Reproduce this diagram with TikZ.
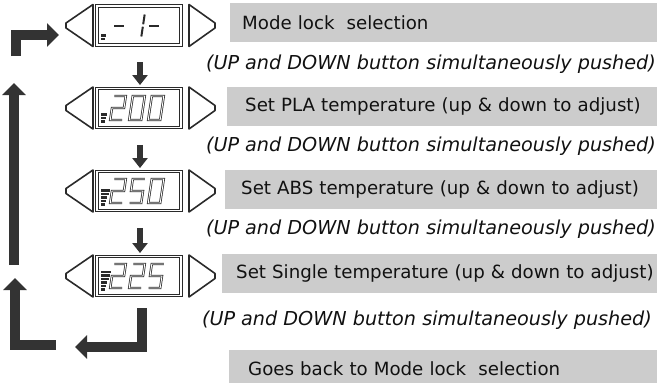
\documentclass[tikz,border=0pt]{standalone}
\usepackage{fontspec}
\setmainfont{DejaVu Sans}
\usetikzlibrary{arrows.meta,calc}
\definecolor{arrowgray}{HTML}{333333}
\definecolor{boxgray}{HTML}{CCCCCC}
\definecolor{lcdgray}{HTML}{2A2A2A}
\definecolor{textdark}{HTML}{111111}
% digit glyph paths in a local 12 x 24 cell (y down)
\newcommand\lcdtwo{(0.5,-12) -- (12,-12) -- (12,0) -- (0,0) -- (0,12) -- (12,12)}
\newcommand\lcdzero{(0,-12) rectangle (12,12)}
\newcommand\lcdfive{(12,-12) -- (0,-12) -- (0,0) -- (12,0) -- (12,12) -- (0.5,12)}
\newcommand\lcdone{(12,-11) -- (12,-1.2) (12,1.2) -- (12,11)}
\newcommand\lcddash{(1,0) -- (11,0)}
% x, c, glyph, style
\newcommand\lcddigit[4]{%
 \begin{scope}[shift={(#1,#2)}, xslant=0.15]
  \draw[#4] #3;
 \end{scope}}
% row: name, center y, number of bars
\newcommand\lcdrow[3]{%
 \node[lcdbox] (#1) at (139,#2) {};
 \draw[btn] (93,#2-21) -- (66,#2-2.5) -- (66,#2+2.5) -- (93,#2+21) -- cycle;
 \draw[btn] (189,#2-21) -- (215,#2-2.5) -- (215,#2+2.5) -- (189,#2+21) -- cycle;
 \foreach \k in {1,...,#3}{\fill[lcdgray] (101,#2+15.5-3.5*\k) rectangle (103.5+1.3*\k,#2+18-3.5*\k);}
}
\begin{document}
\begin{tikzpicture}[x=1pt,y=-1pt,
  lcdbox/.style={draw=lcdgray, double=white, double distance=1.3pt, line width=0.9pt, minimum width=84pt, minimum height=39pt, inner sep=0pt},
  btn/.style={draw=lcdgray, line width=1.6pt, line join=round},
  seg/.style={draw=lcdgray, double=white, double distance=0.9pt, line width=0.75pt, line join=miter},
  solidseg/.style={draw=lcdgray, line width=2pt},
  graybox/.style={fill=boxgray, draw=none, anchor=west, minimum height=39pt, inner ysep=0pt, text=textdark, align=left, font=\fontsize{18.2}{20}\selectfont},
  note/.style={anchor=east, inner sep=0pt, text=textdark, font=\fontsize{19.2}{21}\selectfont\itshape},
  bigarrow/.style={draw=arrowgray, line width=10pt, line join=miter, -{Triangle[width=23pt,length=12pt]}},
  downarrow/.style={draw=arrowgray, line width=6pt, -{Triangle[width=15pt,length=10pt]}}]
\useasboundingbox (0,0) rectangle (659,383);
% displays
\lcdrow{d1}{25.5}{2}
\lcdrow{d2}{108}{3}
\lcdrow{d3}{191}{5}
\lcdrow{d4}{276}{6}
% row 1: - 1 -
\lcddigit{113}{25.5}{\lcddash}{solidseg}
\lcddigit{131}{25.5}{\lcdone}{solidseg}
\lcddigit{148}{25.5}{\lcddash}{solidseg}
% row 2: 200
\lcddigit{112}{108}{\lcdtwo}{seg}
\lcddigit{131}{108}{\lcdzero}{seg}
\lcddigit{150}{108}{\lcdzero}{seg}
% row 3: 250
\lcddigit{112}{191}{\lcdtwo}{seg}
\lcddigit{131}{191}{\lcdfive}{seg}
\lcddigit{150}{191}{\lcdzero}{seg}
% row 4: 225
\lcddigit{112}{276}{\lcdtwo}{seg}
\lcddigit{131}{276}{\lcdtwo}{seg}
\lcddigit{150}{276}{\lcdfive}{seg}
% gray label boxes
\node[graybox, inner xsep=12pt, text width=403pt] (t1) at (230,22.5) {\mbox{Mode lock\ \ selection}};
\node[graybox, inner xsep=18pt, text width=394pt] (t2) at (227,106) {\mbox{Set PLA temperature (up \& down to adjust)}};
\node[graybox, inner xsep=16pt, text width=400pt] (t3) at (225,189) {\mbox{Set ABS temperature (up \& down to adjust)}};
\node[graybox, inner xsep=14pt, text width=407pt] (t4) at (222,273) {\mbox{Set Single temperature (up \& down to adjust)}};
\node[graybox, inner xsep=19pt, text width=390pt] (t5) at (229,369) {\mbox{Goes back to Mode lock\ \ selection}};
% notes
\node[note] (n1) at (656,64) {(UP and DOWN button simultaneously pushed)};
\node[note] (n2) at (656,146) {(UP and DOWN button simultaneously pushed)};
\node[note] (n3) at (656,229) {(UP and DOWN button simultaneously pushed)};
\node[note] (n4) at (652,320) {(UP and DOWN button simultaneously pushed)};
% down arrows
\draw[downarrow] ($(d1.south)+(1,17)$) -- ($(d2.north)+(1,-3)$);
\draw[downarrow] ($(d2.south)+(1,17)$) -- ($(d3.north)+(1,-3)$);
\draw[downarrow] ($(d3.south)+(1,17)$) -- ($(d4.north)+(1,-3)$);
% loop back
\coordinate (h1) at (142,308);
\coordinate (h2) at (75,347);
\coordinate (l1) at (56,345);
\coordinate (l2) at (15,278);
\coordinate (u1) at (14,265);
\coordinate (u2) at (14,83);
\coordinate (b1) at (15.5,56);
\coordinate (b2) at (59,35);
\draw[bigarrow] (h1) |- (h2);
\draw[bigarrow] (l1) -| (l2);
\draw[bigarrow] (u1) -- (u2);
\draw[bigarrow] (b1) |- (b2);
\end{tikzpicture}
\end{document}
